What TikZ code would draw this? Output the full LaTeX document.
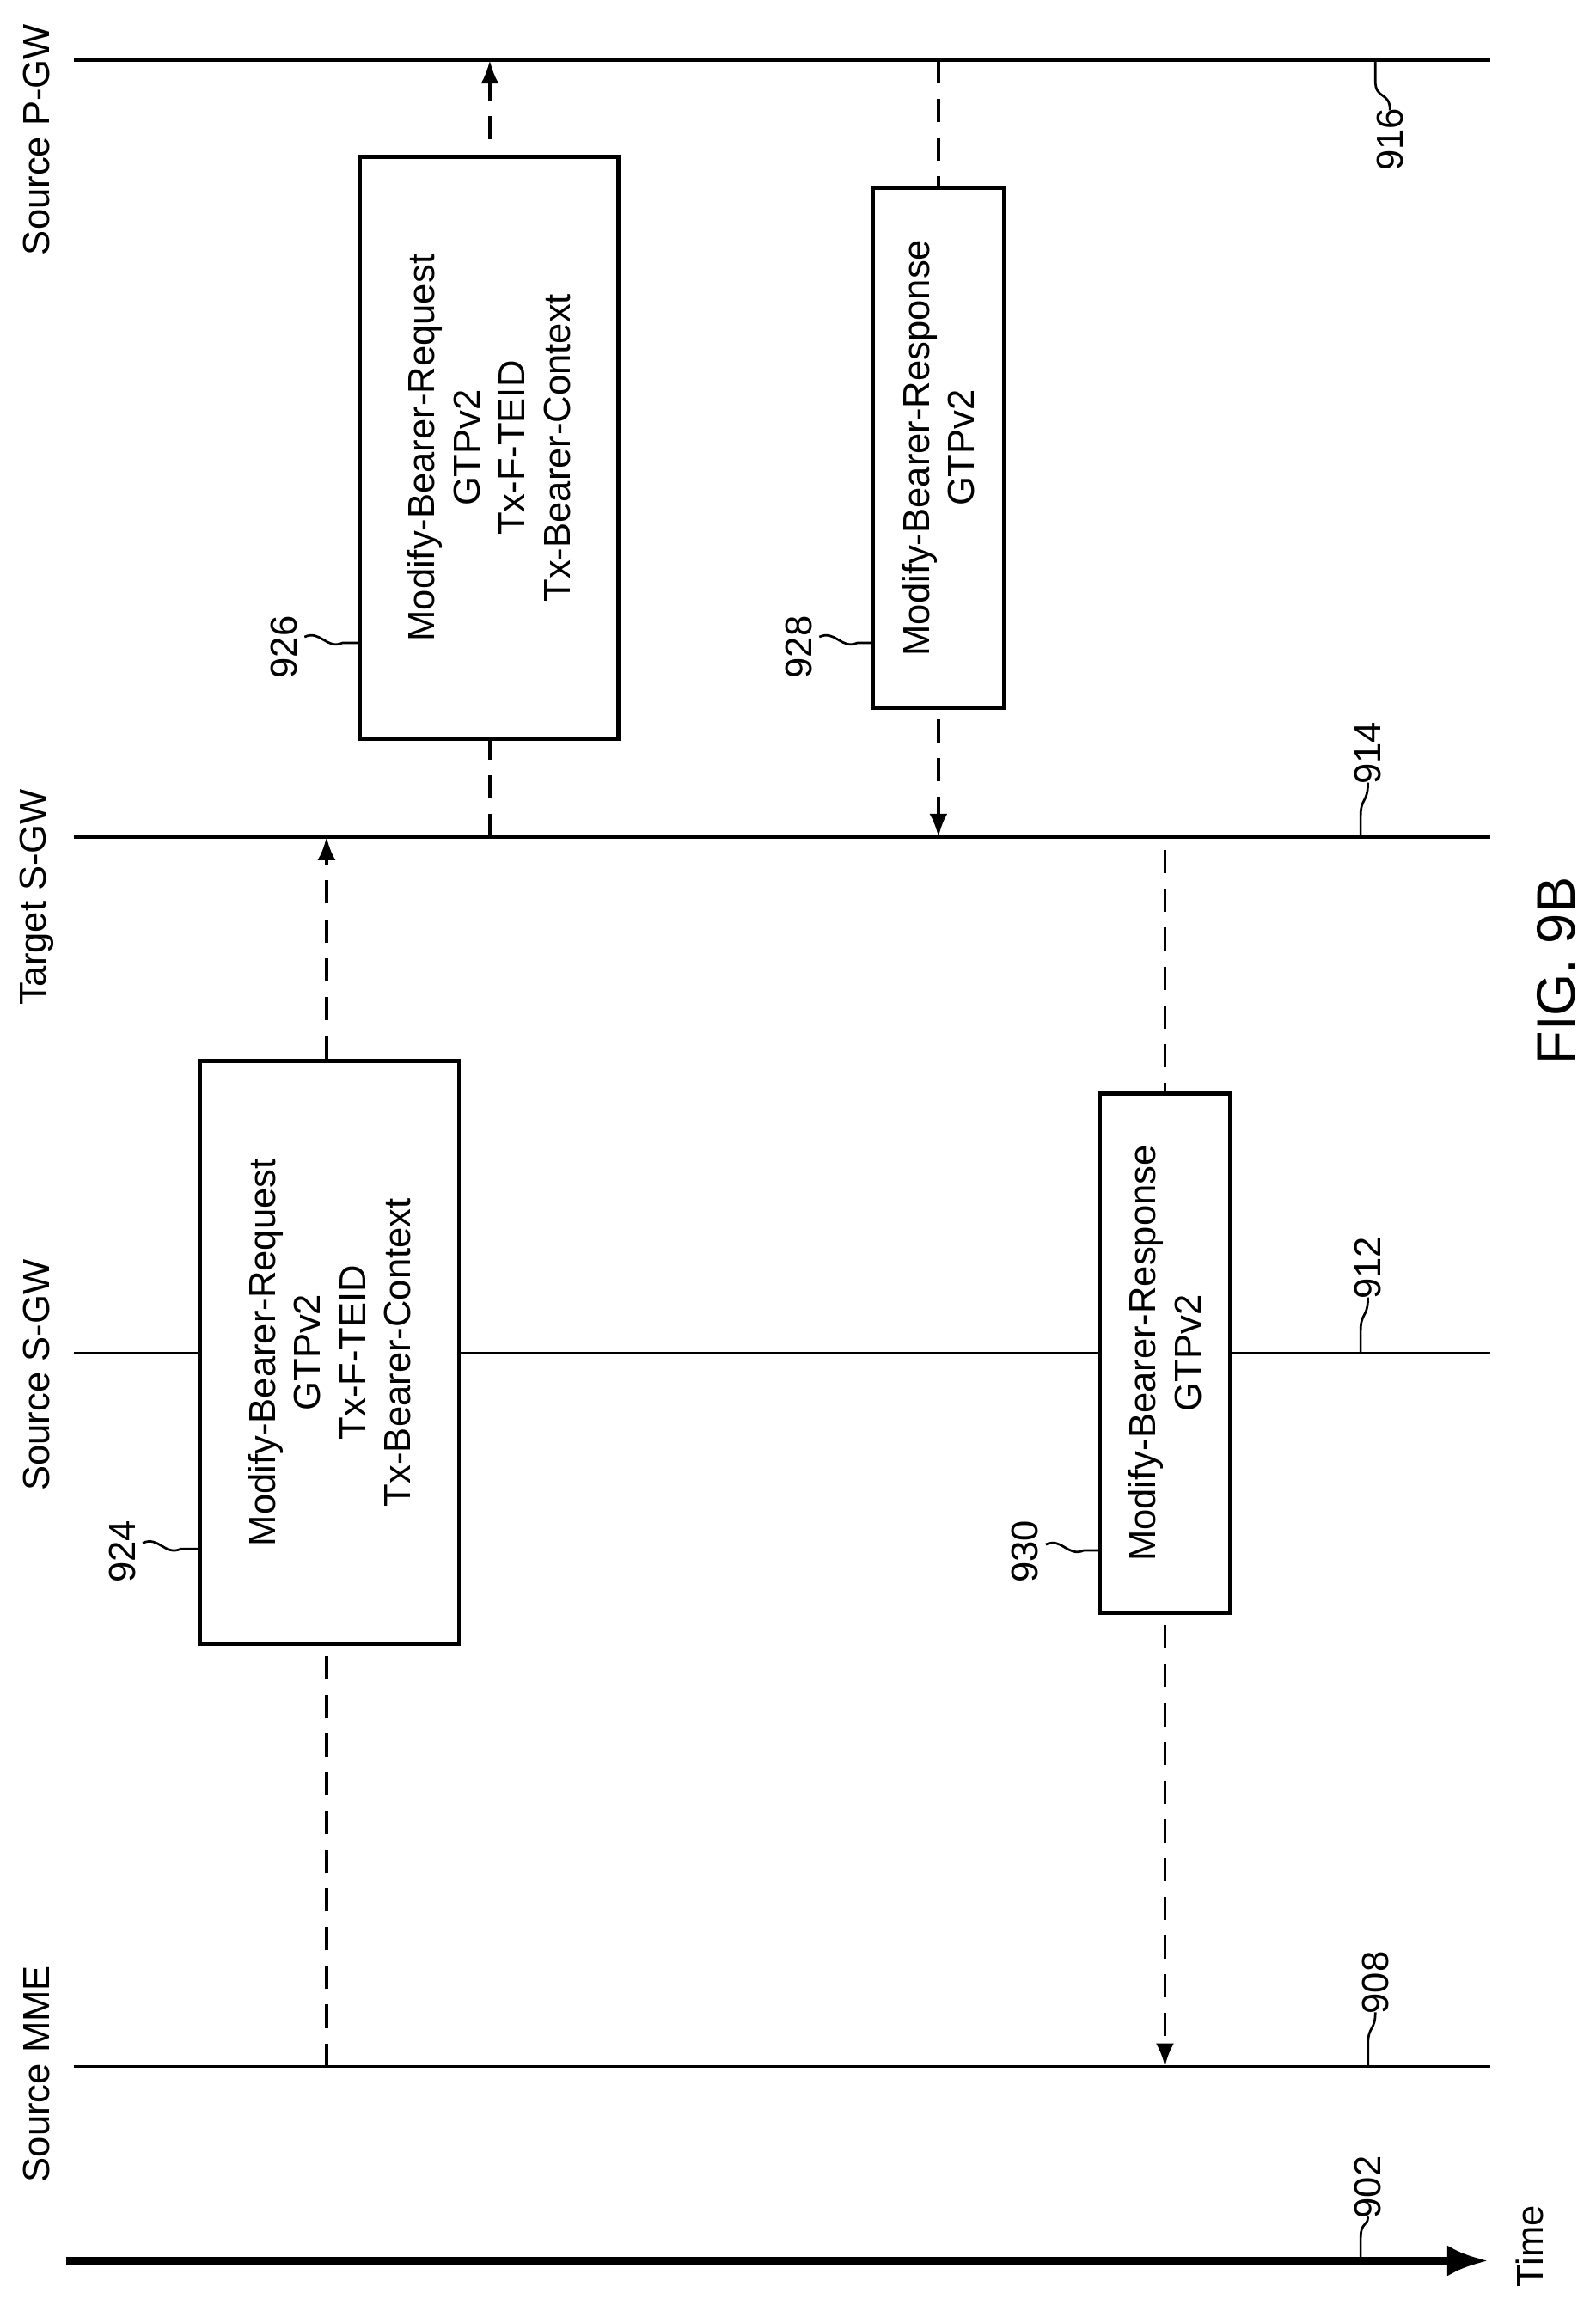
\documentclass[tikz,border=0pt]{standalone}
\usepackage{fontspec}
\setmainfont{Liberation Sans}
\usetikzlibrary{arrows.meta}
\begin{document}
\begin{tikzpicture}[x=0.02cm,y=-0.02cm,
 life/.style={line width=1.2pt},
 msg/.style={line width=1.3pt,dash pattern=on 9pt off 6pt},
 arr/.style={msg,-{Latex[length=9pt,width=7pt]}},
 box/.style={draw,line width=1.6pt,fill=white},
 txt/.style={rotate=90,align=center,font=\fontsize{14.5}{17.5}\selectfont},
 lbl/.style={rotate=90,font=\fontsize{14.5}{17}\selectfont},
 sq/.style={line width=0.9pt}]
\useasboundingbox (0,0) rectangle (1085,1563);
% lifelines
\draw[life] (50,41) coordinate (p1) -- (1013,41) coordinate (p2);
\draw[life] (50,569) coordinate (t1) -- (1013,569) coordinate (t2);
\draw[life] (50,920) coordinate (s1) -- (1013,920) coordinate (s2);
\draw[life] (50,1405) coordinate (m1) -- (1013,1405) coordinate (m2);
\draw[line width=3pt,-{Latex[length=16pt,width=12pt]}] (45,1537) coordinate (ta) -- (1012,1537) coordinate (tb);
\node[lbl] (lp) at (25,95) {Source P-GW};
\node[lbl] (lt) at (25,610) {Target S-GW};
\node[lbl] (ls) at (25,935) {Source S-GW};
\node[lbl] (lm) at (25,1410) {Source MME};
\node[lbl] (ltime) at (1040,1527) {Time};
\node[rotate=90,font=\fontsize{21}{24}\selectfont] (fig) at (1058,660) {FIG. 9B};
% messages
\coordinate (a926t) at (333,41); \coordinate (a926b) at (333,569);
\coordinate (a928t) at (638,41); \coordinate (a928b) at (638,569);
\coordinate (a924t) at (222,569); \coordinate (a924b) at (222,1405);
\coordinate (a930t) at (792,578); \coordinate (a930b) at (792,1405);
\draw[arr] (a926b) -- (a926t);
\draw[arr] (a928t) -- (a928b);
\draw[arr] (a924b) -- (a924t);
\draw[arr] (a930t) -- (a930b);
\node[box,minimum width=176*0.02cm,minimum height=396*0.02cm] (b926) at (332.5,304.5) {};
\node[txt] at (b926) {Modify-Bearer-Request\\GTPv2\\Tx-F-TEID\\Tx-Bearer-Context};
\node[box,minimum width=89*0.02cm,minimum height=354*0.02cm] (b928) at (638,304.5) {};
\node[txt] at (b928) {Modify-Bearer-Response\\GTPv2};
\node[box,minimum width=176*0.02cm,minimum height=396*0.02cm] (b924) at (224,919.5) {};
\node[txt] at (b924) {Modify-Bearer-Request\\GTPv2\\Tx-F-TEID\\Tx-Bearer-Context};
\node[box,minimum width=89*0.02cm,minimum height=353*0.02cm] (b930) at (792,920) {};
\node[txt] at (b930) {Modify-Bearer-Response\\GTPv2};
% reference numbers
\node[lbl] (n926) at (193,440) {926};
\draw[sq] (207,433) .. controls (218,428) and (222,442) .. (233,437) -- (245,437);
\node[lbl] (n928) at (543,440) {928};
\draw[sq] (557,433) .. controls (568,428) and (572,442) .. (583,437) -- (594,437);
\node[lbl] (n924) at (83,1055) {924};
\draw[sq] (97,1049) .. controls (108,1044) and (112,1058) .. (123,1053) -- (136,1053);
\node[lbl] (n930) at (697,1055) {930};
\draw[sq] (711,1050) .. controls (722,1045) and (726,1059) .. (737,1054) -- (748,1054);
\node[lbl] (n916) at (945,95) {916};
\draw[sq] (935,41) -- (935,55) .. controls (935,68) and (945,62) .. (945,75);
\node[lbl] (n914) at (930,512) {914};
\draw[sq] (925,569) -- (925,555) .. controls (925,542) and (930,546) .. (930,532);
\node[lbl] (n912) at (930,862) {912};
\draw[sq] (925,920) -- (925,905) .. controls (925,892) and (930,896) .. (930,882);
\node[lbl] (n908) at (935,1348) {908};
\draw[sq] (930,1405) -- (930,1390) .. controls (930,1377) and (935,1381) .. (935,1368);
\node[lbl] (n902) at (930,1487) {902};
\draw[sq] (925,1537) -- (925,1522) .. controls (925,1510) and (930,1514) .. (930,1507);
\end{tikzpicture}
\end{document}
